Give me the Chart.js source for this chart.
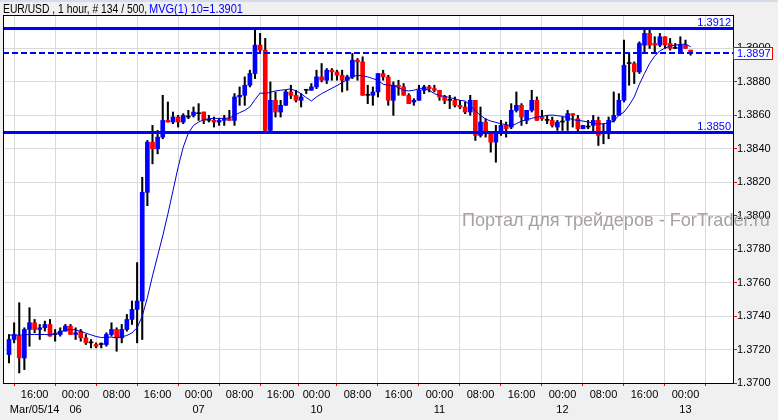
<!DOCTYPE html>
<html>
<head>
<meta charset="utf-8">
<script src="https://cdn.jsdelivr.net/npm/chart.js@4.4.1/dist/chart.umd.min.js"></script>
<style>
  html, body { margin: 0; padding: 0; background: #f0f0f0; }
  canvas { display: block; }
</style>
</head>
<body>
<canvas id="chart" width="778" height="420"></canvas>
<script>
// EUR/USD hourly bars, Mar 05 11:00 .. Mar 13 01:00
const opens = [
  1.3717,1.3726,1.3728,1.3715,1.3732,1.3736,1.3732,1.3733,1.3735,1.3729,
  1.3729,1.3731,1.3734,1.3729,1.3731,1.3727,1.3724,1.3723,1.3723,1.3723,
  1.3729,1.3732,1.3727,1.3732,1.3738,1.3744,1.3749,1.3814,1.3844,1.3840,
  1.3847,1.3857,1.3856,1.3859,1.3856,1.3859,1.3860,1.3861,1.3862,1.3857,
  1.3857,1.3856,1.3857,1.3858,1.3857,1.3871,1.3872,1.3878,1.3885,1.3902,
  1.3899,1.3851,1.3869,1.3862,1.3866,1.3874,1.3872,1.3869,1.3875,1.3875,
  1.3877,1.3883,1.3881,1.3887,1.3886,1.3884,1.3881,1.3883,1.3893,1.3892,
  1.3872,1.3872,1.3874,1.3885,1.3883,1.3869,1.3878,1.3877,1.3872,1.3868,
  1.3869,1.3875,1.3877,1.3876,1.3875,1.3871,1.3869,1.3869,1.3866,1.3865,
  1.3862,1.3869,1.3848,1.3856,1.3849,1.3844,1.3849,1.3854,1.3853,1.3863,
  1.3866,1.3857,1.3863,1.3869,1.3859,1.3857,1.3857,1.3853,1.3856,1.3857,
  1.3861,1.3858,1.3852,1.3853,1.3854,1.3857,1.3849,1.3849,1.3857,1.3860,
  1.3869,1.3891,1.3891,1.3886,1.3902,1.3909,1.3903,1.3902,1.3907,1.3903,
  1.3900,1.3897,1.3902,1.3899
];
const highs = [
  1.3729,1.3736,1.3748,1.3733,1.3745,1.3738,1.3735,1.3737,1.3738,1.3732,
  1.3733,1.3735,1.3735,1.3733,1.3732,1.3729,1.3726,1.3724,1.3724,1.3730,
  1.3736,1.3733,1.3735,1.3741,1.3749,1.3772,1.3823,1.3845,1.3854,1.3851,
  1.3872,1.3868,1.3862,1.3860,1.3861,1.3863,1.3865,1.3867,1.3862,1.3860,
  1.3859,1.3858,1.3860,1.3863,1.3873,1.3877,1.3883,1.3887,1.3912,1.3909,
  1.3906,1.3880,1.3874,1.3869,1.3875,1.3878,1.3875,1.3873,1.3875,1.3879,
  1.3887,1.3891,1.3888,1.3888,1.3887,1.3887,1.3884,1.3897,1.3894,1.3895,
  1.3878,1.3877,1.3885,1.3887,1.3884,1.3880,1.3881,1.3879,1.3873,1.3870,
  1.3878,1.3878,1.3878,1.3878,1.3875,1.3872,1.3872,1.3871,1.3869,1.3868,
  1.3872,1.3869,1.3865,1.3858,1.3850,1.3854,1.3857,1.3856,1.3867,1.3874,
  1.3867,1.3863,1.3875,1.3871,1.3863,1.3860,1.3859,1.3857,1.3859,1.3863,
  1.3861,1.3860,1.3854,1.3857,1.3860,1.3859,1.3855,1.3859,1.3874,1.3873,
  1.3905,1.3897,1.3892,1.3904,1.3912,1.3912,1.3907,1.3909,1.3907,1.3906,
  1.3903,1.3907,1.3905,1.3899
];
const lows = [
  1.3712,1.3724,1.3706,1.3708,1.3722,1.3730,1.3726,1.3731,1.3728,1.3725,
  1.3728,1.3731,1.3729,1.3726,1.3725,1.3723,1.3721,1.3721,1.3721,1.3722,
  1.3728,1.3719,1.3724,1.3731,1.3735,1.3724,1.3726,1.3806,1.3831,1.3837,
  1.3846,1.3856,1.3855,1.3853,1.3855,1.3858,1.3859,1.3857,1.3855,1.3856,
  1.3853,1.3854,1.3854,1.3857,1.3854,1.3866,1.3866,1.3877,1.3882,1.3898,
  1.3850,1.3850,1.3859,1.3859,1.3866,1.3870,1.3868,1.3865,1.3873,1.3875,
  1.3876,1.3880,1.3879,1.3881,1.3881,1.3874,1.3875,1.3882,1.3881,1.3872,
  1.3867,1.3866,1.3871,1.3881,1.3866,1.3860,1.3872,1.3872,1.3867,1.3866,
  1.3869,1.3873,1.3874,1.3874,1.3869,1.3867,1.3864,1.3865,1.3864,1.3861,
  1.3860,1.3845,1.3847,1.3847,1.3838,1.3832,1.3848,1.3847,1.3852,1.3862,
  1.3854,1.3855,1.3862,1.3857,1.3857,1.3855,1.3853,1.3851,1.3851,1.3851,
  1.3853,1.3850,1.3852,1.3852,1.3850,1.3842,1.3843,1.3846,1.3856,1.3860,
  1.3868,1.3878,1.3879,1.3885,1.3897,1.3900,1.3897,1.3901,1.3900,1.3899,
  1.3900,1.3897,1.3900,1.3896
];
const closes = [
  1.3726,1.3729,1.3715,1.3732,1.3736,1.3732,1.3733,1.3735,1.3728,1.3729,
  1.3731,1.3734,1.3729,1.3730,1.3727,1.3724,1.3724,1.3722,1.3723,1.3729,
  1.3732,1.3727,1.3732,1.3738,1.3744,1.3749,1.3814,1.3844,1.3840,1.3847,
  1.3857,1.3856,1.3859,1.3856,1.3860,1.3859,1.3862,1.3861,1.3857,1.3857,
  1.3856,1.3857,1.3858,1.3857,1.3871,1.3872,1.3878,1.3885,1.3902,1.3899,
  1.3851,1.3869,1.3862,1.3866,1.3874,1.3872,1.3869,1.3871,1.3875,1.3877,
  1.3883,1.3881,1.3887,1.3886,1.3884,1.3881,1.3883,1.3893,1.3892,1.3872,
  1.3872,1.3874,1.3885,1.3883,1.3869,1.3878,1.3877,1.3872,1.3867,1.3869,
  1.3875,1.3877,1.3876,1.3875,1.3871,1.3869,1.3869,1.3866,1.3865,1.3862,
  1.3869,1.3848,1.3856,1.3849,1.3844,1.3849,1.3854,1.3852,1.3863,1.3866,
  1.3859,1.3863,1.3869,1.3857,1.3858,1.3857,1.3854,1.3856,1.3856,1.3861,
  1.3860,1.3852,1.3854,1.3853,1.3857,1.3848,1.3850,1.3857,1.3860,1.3869,
  1.3890,1.3891,1.3886,1.3903,1.3909,1.3902,1.3902,1.3907,1.3902,1.3900,
  1.3900,1.3902,1.3900,1.3897
];
// MVG(1) 10 line
const ma10 = [
  1.37286,1.37286,1.37286,1.37288,1.3729,1.3729,1.3729,1.3729,1.37288,1.37294,
  1.37306,1.37316,1.3732,1.37318,1.37308,1.37298,1.37288,1.37278,1.37272,1.37274,
  1.37274,1.3727,1.37276,1.37284,1.373,1.3733,1.374,1.3751,1.3764,1.3776,
  1.3788,1.3801,1.3815,1.3829,1.3841,1.38494,1.3854,1.3856,1.38574,1.3858,
  1.38582,1.38582,1.38582,1.38584,1.386,1.38616,1.3863,1.3865,1.38694,1.38734,
  1.3873,1.38738,1.38746,1.3875,1.38754,1.38758,1.38746,1.3873,1.38706,1.38686,
  1.3871,1.3873,1.38746,1.38762,1.38778,1.38796,1.38814,1.3883,1.3884,1.38836,
  1.3883,1.3882,1.3881,1.38786,1.3878,1.3878,1.38766,1.3875,1.38746,1.3875,
  1.3876,1.38758,1.3875,1.3873,1.38718,1.38714,1.38706,1.38698,1.3869,1.38686,
  1.3866,1.38626,1.386,1.38578,1.38566,1.38558,1.3855,1.38544,1.38538,1.3855,
  1.38566,1.38574,1.38582,1.3859,1.38594,1.386,1.38602,1.38598,1.38594,1.38586,
  1.38574,1.3857,1.38566,1.3856,1.38554,1.38548,1.3855,1.38554,1.38566,1.386,
  1.3862,1.3866,1.3871,1.38786,1.3885,1.3891,1.38954,1.38986,1.39002,1.39014,
  1.3902,1.39024,1.39026,1.3901
];

// bar index of each time tick, and its two label lines
const tickIdx = [5, 13, 21, 29, 37, 45, 53, 60, 68, 76, 84, 92, 100, 108, 116, 124, 132];
const tickTimes = ["16:00","00:00","08:00","16:00","00:00","08:00","16:00","00:00","08:00",
                   "16:00","00:00","08:00","16:00","00:00","08:00","16:00","00:00"];
const tickDates = ["Mar/05/14","06","","","07","","","10","","","11","","","12","","","13"];
const priceTicks = ["1.3700","1.3720","1.3740","1.3760","1.3780","1.3800","1.3820","1.3840","1.3860","1.3880","1.3900"];

const levels = [1.3912, 1.3850];
const bid = 1.3897;
const header = "EUR/USD , 1 hour, # 134 / 500,";
const maLabel = "MVG(1) 10=1.3901";
const watermark = "Портал для трейдеров - ForTrader.ru";

const FONT = '"Liberation Sans", Arial, sans-serif';
const BLUE = "#0000ff";

const bodyColors = opens.map((o, i) => closes[i] > o ? BLUE : (closes[i] < o ? "#ff0000" : "#000000"));

// draw text squeezed to a given width
function fitText(ctx, text, x, y, width) {
  const w = ctx.measureText(text).width;
  ctx.save();
  ctx.translate(x, y);
  ctx.scale(width / w, 1);
  ctx.fillText(text, 0, 0);
  ctx.restore();
}

const framePlugin = {
  id: "frame",
  beforeDraw(chart) {
    const { ctx, chartArea: a } = chart;
    ctx.save();
    ctx.fillStyle = "#f0f0f0";
    ctx.fillRect(0, 0, chart.width, chart.height);
    ctx.fillStyle = "#d3dee9";
    ctx.fillRect(0, 0, chart.width, 2);
    ctx.fillStyle = "#ffffff";
    ctx.fillRect(a.left, a.top, a.right - a.left, a.bottom - a.top);
    ctx.restore();
  },
  afterDatasetsDraw(chart) {
    const { ctx, chartArea: a, scales } = chart;
    ctx.save();
    ctx.strokeStyle = BLUE;
    ctx.fillStyle = BLUE;
    ctx.font = "11px " + FONT;
    ctx.textAlign = "right";
    ctx.textBaseline = "alphabetic";
    levels.forEach(v => {
      const y = Math.round(scales.y.getPixelForValue(v)) + 0.5;
      ctx.lineWidth = 3;
      ctx.beginPath();
      ctx.moveTo(a.left, y);
      ctx.lineTo(a.right, y);
      ctx.stroke();
      ctx.fillText(v.toFixed(4), a.right - 2, y - 2.5);
    });
    const yb = Math.round(scales.y.getPixelForValue(bid));
    ctx.lineWidth = 2;
    ctx.setLineDash([6, 3]);
    ctx.beginPath();
    ctx.moveTo(a.left, yb);
    ctx.lineTo(a.right, yb);
    ctx.stroke();
    ctx.setLineDash([]);
    // frame
    ctx.strokeStyle = "#000";
    ctx.lineWidth = 1;
    ctx.strokeRect(a.left + 0.5, a.top + 0.5, a.right - a.left, a.bottom - a.top);
    ctx.restore();
  },
  afterDraw(chart) {
    const { ctx, chartArea: a, scales } = chart;
    ctx.save();
    // header
    ctx.font = "12px " + FONT;
    ctx.textAlign = "left";
    ctx.textBaseline = "alphabetic";
    ctx.fillStyle = "#000";
    fitText(ctx, header, 3, 13, 144);
    ctx.fillStyle = BLUE;
    fitText(ctx, maLabel, 149, 13, 94);
    // watermark
    ctx.font = "17px " + FONT;
    const ww = ctx.measureText(watermark).width;
    const size = 17 * 308 / ww;
    ctx.font = size.toFixed(2) + "px " + FONT;
    ctx.fillStyle = "#a89f9f";
    ctx.fillText(watermark, 462, 226);
    // bid box on the price axis
    const yb = Math.round(scales.y.getPixelForValue(bid));
    ctx.fillStyle = "#ffffff";
    ctx.fillRect(a.right + 1, yb - 6, 39, 13);
    ctx.strokeStyle = "#ff0000";
    ctx.lineWidth = 1;
    ctx.strokeRect(a.right + 0.5, yb - 5.5, 39, 12);
    ctx.font = "11px " + FONT;
    ctx.fillStyle = BLUE;
    ctx.textBaseline = "middle";
    ctx.fillText(bid.toFixed(4), a.right + 4, yb + 1);
    ctx.restore();
  }
};

new Chart(document.getElementById("chart"), {
  type: "bar",
  data: {
    datasets: [
      {
        type: "line",
        data: ma10.map((v, i) => ({ x: i, y: v })),
        borderColor: "#0000d0",
        borderWidth: 1,
        pointRadius: 0,
        tension: 0,
        order: 0
      },
      {
        data: opens.map((o, i) => ({ x: i, y: [o, closes[i]] })),
        backgroundColor: bodyColors,
        barThickness: 4,
        minBarLength: 1,
        grouped: false,
        order: 1
      },
      {
        data: lows.map((l, i) => ({ x: i, y: [l, highs[i]] })),
        backgroundColor: "#000000",
        barThickness: 1.4,
        grouped: false,
        order: 2
      }
    ]
  },
  options: {
    responsive: false,
    animation: false,
    events: [],
    layout: { padding: { left: 3, top: 15, right: 0, bottom: 0 } },
    plugins: { legend: { display: false }, tooltip: { enabled: false } },
    scales: {
      x: {
        type: "linear",
        position: "bottom",
        min: -1.17,
        max: 141.27,
        offset: false,
        afterBuildTicks: s => { s.ticks = tickIdx.map(v => ({ value: v })); },
        afterFit: s => { s.height = 37; },
        grid: { color: "#dadada", tickColor: "#ff0000", tickLength: 3 },
        border: { color: "#000", width: 1 },
        ticks: {
          autoSkip: false,
          maxRotation: 0,
          padding: 1,
          color: "#000",
          font: { family: FONT, size: 11, lineHeight: "15px" },
          callback: v => {
            const k = tickIdx.indexOf(v);
            return k < 0 ? "" : [tickTimes[k], tickDates[k]];
          }
        }
      },
      y: {
        type: "linear",
        position: "right",
        min: 1.3700,
        max: 1.3920,
        afterBuildTicks: s => { s.ticks = priceTicks.map(t => ({ value: parseFloat(t) })); },
        afterFit: s => { s.width = 45; },
        grid: { color: "#dadada", tickColor: "#ff0000", tickLength: 4 },
        border: { color: "#000", width: 1 },
        ticks: {
          padding: 0,
          color: "#000",
          font: { family: FONT, size: 11 },
          callback: v => v.toFixed(4)
        }
      }
    }
  },
  plugins: [framePlugin]
});
</script>
</body>
</html>
